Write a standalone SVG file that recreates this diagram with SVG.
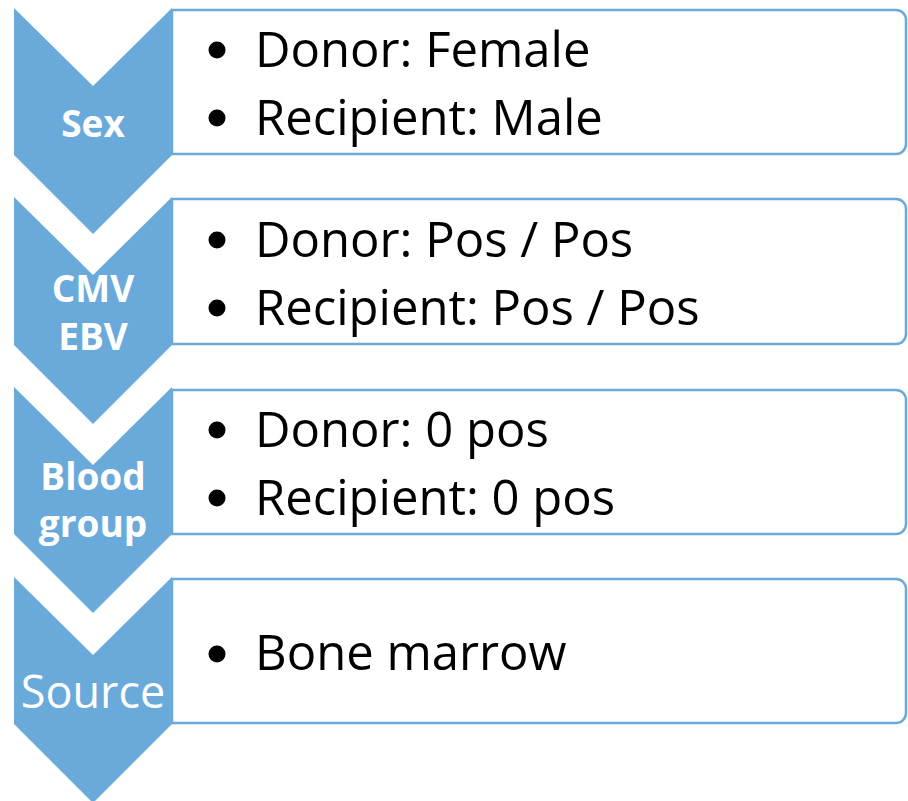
<svg xmlns="http://www.w3.org/2000/svg" width="908" height="801" viewBox="0 0 908 801">
<defs>
<style>
.chev{fill:#6aaadb;}
.box{fill:#ffffff;stroke:#6aaadb;stroke-width:2.5;}
.lbl{font-family:"Open Sans","Noto Sans",sans-serif;font-weight:bold;font-size:37px;fill:#ffffff;text-anchor:middle;}
.lblr{font-family:"Open Sans","Noto Sans",sans-serif;font-size:45px;fill:#ffffff;text-anchor:middle;}
.txt{font-family:"Open Sans","Noto Sans",sans-serif;font-size:49px;fill:#000000;}
.bul{fill:#000000;}
</style>
</defs>
<g id="connectors"></g>
<g id="node-sex">
<path class="box" d="M172,10 H896 A10,10 0 0 1 906,20 V144 A10,10 0 0 1 896,154 H172 Z"/>
<polygon class="chev" points="14,8 93,86 172,8 172,155 93,234 14,155"/>
<text class="lbl" x="93" y="137">Sex</text>
<circle class="bul" cx="217" cy="50" r="8.5"/>
<text class="txt" x="255" y="67">Donor: Female</text>
<circle class="bul" cx="217" cy="118" r="8.5"/>
<text class="txt" x="255" y="135">Recipient: Male</text>
</g>
<g id="node-cmv">
<path class="box" d="M172,199 H896 A10,10 0 0 1 906,209 V334 A10,10 0 0 1 896,344 H172 Z"/>
<polygon class="chev" points="14,197 93,275 172,197 172,345 93,424 14,345"/>
<text class="lbl" x="93" y="302">CMV</text>
<text class="lbl" x="93" y="350">EBV</text>
<circle class="bul" cx="217" cy="240" r="8.5"/>
<text class="txt" x="255" y="257">Donor: Pos / Pos</text>
<circle class="bul" cx="217" cy="308" r="8.5"/>
<text class="txt" x="255" y="325">Recipient: Pos / Pos</text>
</g>
<g id="node-blood">
<path class="box" d="M172,390 H896 A10,10 0 0 1 906,400 V524 A10,10 0 0 1 896,534 H172 Z"/>
<polygon class="chev" points="14,387 93,465 172,387 172,534 93,613 14,534"/>
<text class="lbl" x="93" y="490">Blood</text>
<text class="lbl" x="93" y="537">group</text>
<circle class="bul" cx="217" cy="430" r="8.5"/>
<text class="txt" x="255" y="447">Donor: 0 pos</text>
<circle class="bul" cx="217" cy="498" r="8.5"/>
<text class="txt" x="255" y="515">Recipient: 0 pos</text>
</g>
<g id="node-source">
<path class="box" d="M172,579 H896 A10,10 0 0 1 906,589 V713 A10,10 0 0 1 896,723 H172 Z"/>
<polygon class="chev" points="14,577 93,655 172,577 172,724 93,803 14,724"/>
<text class="lblr" x="93" y="708">Source</text>
<circle class="bul" cx="217" cy="654" r="8.5"/>
<text class="txt" x="255" y="670">Bone marrow</text>
</g>
</svg>
